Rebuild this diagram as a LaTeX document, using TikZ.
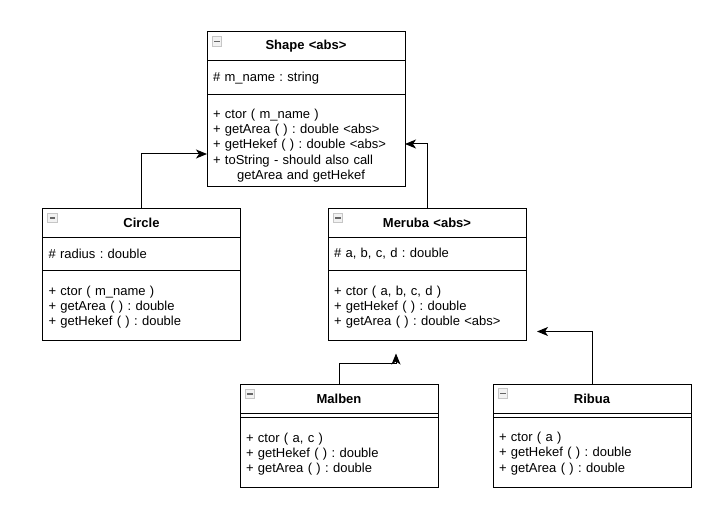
\documentclass[tikz,border=0pt]{standalone}
\usepackage{fontspec}
\setmainfont{Liberation Sans}
\frenchspacing
\usetikzlibrary{positioning, arrows.meta}

\begin{document}
\begin{tikzpicture}[
    x=1pt, y=-1pt,
    part/.style={rectangle, draw, line width=1pt, outer sep=0pt, inner xsep=6pt, inner ysep=0pt, text width=186pt, font=\fontsize{13}{15.4}\selectfont},
    head/.style={part, align=center, minimum height=29pt, font=\fontsize{13}{15.4}\selectfont\bfseries},
    attrs/.style={part, align=left, minimum height=33pt},
    ops/.style={part, align=left, minimum height=70pt, execute at begin node={\rule{0pt}{12.5pt}}},
    gap/.style={part, minimum height=4pt},
    foldicon/.style={rectangle, draw=gray!45, fill=gray!10, line width=0.7pt, minimum size=9.5pt, inner sep=0pt,
        path picture={\draw[line width=1.1pt, black!60] ([xshift=2.2pt]path picture bounding box.west) -- ([xshift=-2.2pt]path picture bounding box.east);}},
    inherit/.style={-{Stealth[length=11pt, width=9pt, inset=3pt]}, line width=1pt}
]
\useasboundingbox (0,0) rectangle (710,508);

% Classes
\node[head] (shape) at (306,46.5) {Shape <abs>};
\node[attrs, minimum height=34pt, below=0pt of shape] (shapeAttr) {\# m\_name : string};
\node[ops, minimum height=92pt, below=0pt of shapeAttr] (shapeOps) {\rule{0pt}{18.5pt}+ ctor ( m\_name )\\+ getArea ( ) : double <abs>\\+ getHekef ( ) : double <abs>\\+ toString - should also call\\\hspace*{1.85em}getArea and getHekef};

\node[head] (circle) at (141.5,223) {Circle};
\node[attrs, below=0pt of circle] (circleAttr) {\# radius : double};
\node[ops, below=0pt of circleAttr] (circleOps) {+ ctor ( m\_name )\\+ getArea ( ) : double\\+ getHekef ( ) : double};

\node[head] (meruba) at (427,223) {Meruba <abs>};
\node[attrs, below=0pt of meruba] (merubaAttr) {\# a, b, c, d : double};
\node[ops, below=0pt of merubaAttr] (merubaOps) {+ ctor ( a, b, c, d )\\+ getHekef ( ) : double\\+ getArea ( ) : double <abs>};

\node[head] (malben) at (339,399) {Malben};
\node[gap, below=0pt of malben] (malbenAttr) {};
\node[ops, below=0pt of malbenAttr] (malbenOps) {+ ctor ( a, c )\\+ getHekef ( ) : double\\+ getArea ( ) : double};

\node[head] (ribua) at (592,398.5) {Ribua};
\node[gap, below=0pt of ribua] (ribuaAttr) {};
\node[ops, below=0pt of ribuaAttr] (ribuaOps) {+ ctor ( a )\\+ getHekef ( ) : double\\+ getArea ( ) : double};

% Fold icons
\foreach \cls in {shape, circle, meruba, malben, ribua}
    \node[foldicon] (\cls Fold) at ([xshift=10pt, yshift=-9.5pt]\cls.north west) {};

% Inheritance
\draw[inherit] (circle.north) |- ([yshift=-13pt]shapeOps.west);
\draw[inherit] (meruba.north) |- ([yshift=-3pt]shapeOps.east);
\draw[inherit] (malben.north) -- ++(0,-21) -| ([xshift=-31pt, yshift=-13pt]merubaOps.south);
\draw[inherit] (ribua.north) |- ([xshift=11pt, yshift=-26pt]merubaOps.east);
\end{tikzpicture}
\end{document}
